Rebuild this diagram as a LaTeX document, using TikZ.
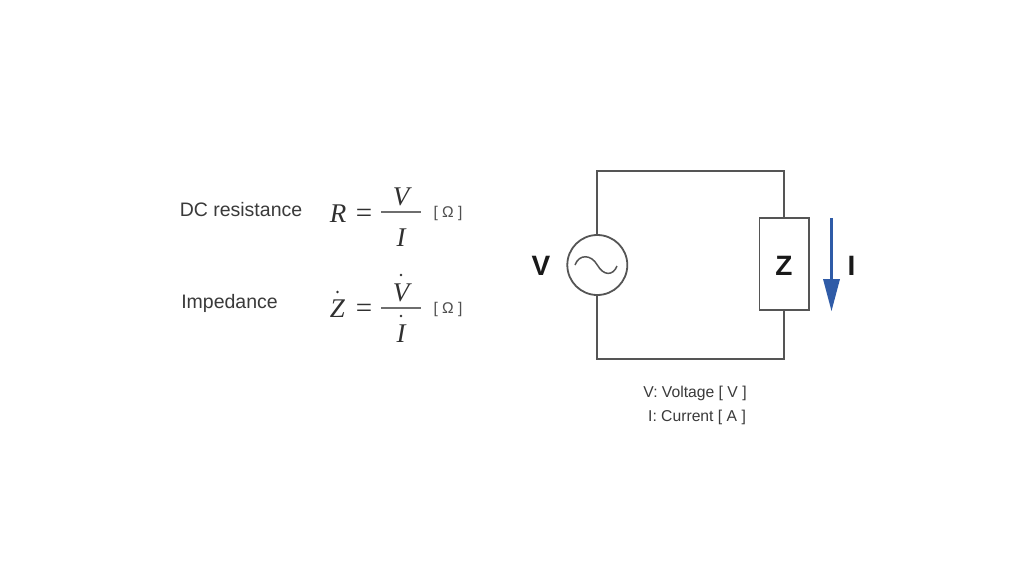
\documentclass[tikz,border=0pt]{standalone}
\usepackage{fontspec}
\setmainfont{Liberation Sans}
\newfontfamily\serifi[ItalicFont=Liberation Serif Italic]{Liberation Serif}
\definecolor{wire}{HTML}{555555}
\definecolor{txt}{HTML}{3A3A3A}
\definecolor{mathc}{HTML}{303030}
\definecolor{cur}{HTML}{2F5BA7}
\tikzset{
  x=1pt,y=-1pt,
  label text/.style={inner sep=0,anchor=base,text=txt,font=\fontsize{19.5}{22}\selectfont},
  note text/.style={inner sep=0,anchor=base,text=txt,font=\fontsize{15.7}{18}\selectfont},
  big text/.style={inner sep=0,anchor=base,text=black!90,font=\fontsize{28}{32}\selectfont\bfseries},
  var/.style={inner sep=0,anchor=base,text=mathc,font=\fontsize{27}{30}\serifi\itshape},
  eqsign/.style={inner sep=0,anchor=base,text=mathc,font=\fontsize{29}{30}\serifi},
  unit/.style={inner sep=0,anchor=base,text=mathc!85,font=\fontsize{15.5}{18}\selectfont},
  wireline/.style={draw=wire,line width=1.8pt},
  fracbar/.style={draw=mathc!70,line width=1.4pt},
  dotmark/.style={circle,fill=mathc,inner sep=0,minimum size=2.8pt},
  source/.style={circle,draw=wire,line width=1.8pt,minimum size=60pt,inner sep=0},
  load/.style={rectangle,draw=wire,line width=1.8pt,minimum width=49.5pt,minimum height=91.5pt,inner sep=0},
}
\begin{document}
\begin{tikzpicture}
\useasboundingbox[fill=white] (0,0) rectangle (1024,576);
% left labels
\node[label text] (dc) at (241,216) {DC resistance};
\node[label text] (imp) at (229.5,308.5) {Impedance};
% first formula
\node[var] (r) at (338,222) {R};
\node[eqsign] (eq1) at (364,222) {=};
\node[var] (v1) at (401,205) {V};
\node[var] (i1) at (401,246) {I};
\coordinate (b1l) at (381,212);
\coordinate (b1r) at (421,212);
\draw[fracbar] (b1l) -- (b1r);
\node[unit] (u1) at (448,217) {[ Ω ]};
% second formula
\node[var] (z) at (337.5,317) {Z};
\node[dotmark] (dz) at (337.5,292) {};
\node[eqsign] (eq2) at (364,317) {=};
\node[var] (v2) at (401,301) {V};
\node[dotmark] (dv) at (401,275) {};
\node[var] (i2) at (401,342) {I};
\node[dotmark] (di) at (401,316) {};
\coordinate (b2l) at (381,308);
\coordinate (b2r) at (421,308);
\draw[fracbar] (b2l) -- (b2r);
\node[unit] (u2) at (448,313) {[ Ω ]};
% circuit
\node[source] (src) at (597.3,265) {};
\node[load] (zbox) at (784.3,264) {};
\coordinate (tl) at (597.3,171);
\coordinate (tr) at (784.3,171);
\coordinate (bl) at (597.3,359);
\coordinate (br) at (784.3,359);
\draw[wireline,line join=miter] (src.north) -- (tl) -- (tr) -- (zbox.north);
\draw[wireline,line join=miter] (src.south) -- (bl) -- (br) -- (zbox.south);
\draw[wire,line width=1.5pt] (575,265) .. controls (579,254) and (591,254) .. (597.3,265) .. controls (603.6,276) and (613,276) .. (617,266);
\node[big text] (vl) at (541,275) {V};
\node[big text] (zl) at (784,275) {Z};
\node[big text] (il) at (851.5,275) {I};
% current arrow
\coordinate (as) at (831.5,218);
\coordinate (ae) at (831.5,280);
\coordinate (at) at (831.5,311);
\coordinate (hl) at (823,279);
\coordinate (hr) at (840,279);
\draw[cur,line width=2.6pt] (as) -- (ae);
\fill[cur] (hl) -- (hr) -- (at) -- cycle;
% notes
\node[note text] (n1) at (695,397) {V: Voltage [ V ]};
\node[note text] (n2) at (697,421) {I: Current [ A ]};
\end{tikzpicture}
\end{document}
